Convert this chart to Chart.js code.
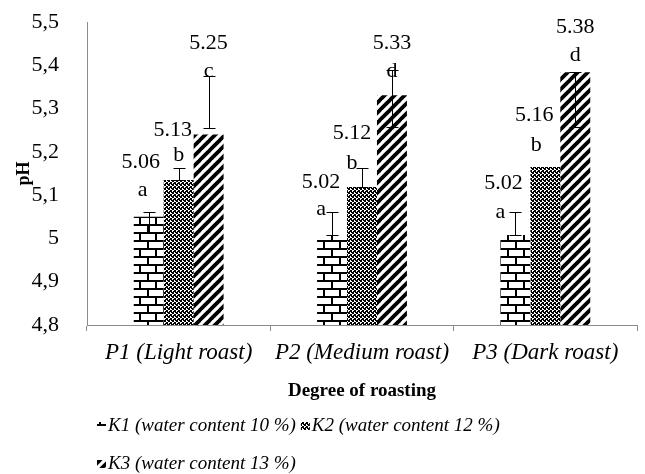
<!DOCTYPE html>
<html><head><meta charset="utf-8">
<script src="https://cdn.jsdelivr.net/npm/chart.js@4.4.0/dist/chart.umd.min.js"></script>
<style>html,body{margin:0;padding:0;background:#fff}#wrap{width:645px;height:474px;position:relative}</style>
</head><body><div id="wrap"><canvas id="c" width="645" height="474"></canvas></div>
<script>
// ---- data ----
const categories = ['P1 (Light roast)', 'P2 (Medium roast)', 'P3 (Dark roast)'];
const seriesNames = ['K1 (water content 10 %)', 'K2 (water content 12 %)', 'K3 (water content 13 %)'];
const k1Values = [5.05, 5.008, 5.008];
const k2Values = [5.135, 5.119, 5.165];
const k3Values = [5.24, 5.331, 5.384];
const k1ErrLow = [5.012, 5.008, 5.008];
const k1ErrHigh = [5.061, 5.061, 5.061];
const k2ErrLow = [5.135, 5.119, null];
const k2ErrHigh = [5.163, 5.163, null];
const k3ErrLow = [5.255, 5.257, 5.257];
const k3ErrHigh = [5.375, 5.389, 5.384];
const k1Labels = ['5.06', '5.02', '5.02'];
const k2Labels = ['5.13', '5.12', '5.16'];
const k3Labels = ['5.25', '5.33', '5.38'];
const k1Letters = ['a', 'a', 'a'];
const k2Letters = ['b', 'b', 'b'];
const k3Letters = ['c', 'd', 'd'];
const yMin = 4.8, yMax = 5.5, yStep = 0.1;

// ---- layout of annotations (pixel offsets from error-bar top) ----
const valueOffsets = [
  [[-8, -50], [-11, -30], [-12, -29]],
  [[-6, -38], [-10, -35], [-11, -52]],
  [[0, -33], [0, -27], [0, -45]]
];
const letterOffsets = [
  [[-6, -22], [-11, -3], [-15, 0]],
  [[0, -13], [-10, -5], [-9, -22]],
  [[0, -5], [0, 1], [0, -17]]
];

const SERIF = '"Liberation Serif", "Times New Roman", serif';

// ---- patterns ----
function tile(w, h, draw) {
  const c = document.createElement('canvas'); c.width = w; c.height = h;
  const x = c.getContext('2d'); draw(x, w, h); return c;
}
const brickTile = tile(16, 16, (x) => {
  x.fillStyle = '#fff'; x.fillRect(0, 0, 16, 16);
  x.fillStyle = '#000';
  x.fillRect(0, 0, 16, 2); x.fillRect(0, 8, 16, 2);
  x.fillRect(3, 2, 2, 6); x.fillRect(11, 10, 2, 6);
});
const checkTile = tile(4, 4, (x) => {
  x.fillStyle = '#fff'; x.fillRect(0, 0, 4, 4);
  x.fillStyle = '#000';
  x.fillRect(0, 0, 2, 2); x.fillRect(2, 2, 2, 2);
  x.fillRect(3, 0, 1, 1); x.fillRect(1, 3, 1, 1);
});
const stripeTile = tile(10, 10, (x) => {
  x.fillStyle = '#fff'; x.fillRect(0, 0, 10, 10);
  x.strokeStyle = '#000'; x.lineWidth = 3.8;
  for (let o = -10; o <= 10; o += 10) {
    x.beginPath(); x.moveTo(o - 1, 11); x.lineTo(o + 11, -1); x.stroke();
  }
});
const ctx = document.getElementById('c').getContext('2d');
const patterns = [
  ctx.createPattern(brickTile, 'repeat'),
  ctx.createPattern(checkTile, 'repeat'),
  ctx.createPattern(stripeTile, 'repeat')
];

const errLow = [k1ErrLow, k2ErrLow, k3ErrLow];
const errHigh = [k1ErrHigh, k2ErrHigh, k3ErrHigh];
const valLabels = [k1Labels, k2Labels, k3Labels];
const letters = [k1Letters, k2Letters, k3Letters];

const annotPlugin = {
  id: 'annot',
  afterDatasetsDraw(chart) {
    const c = chart.ctx, y = chart.scales.y;
    c.save();
    c.strokeStyle = '#000'; c.lineWidth = 1;
    for (let s = 0; s < 3; s++) {
      const meta = chart.getDatasetMeta(s);
      meta.data.forEach((bar, i) => {
        const bx = Math.round(bar.x) + 0.5;
        let top = bar.y;
        if (errHigh[s][i] != null) {
          const yl = Math.round(y.getPixelForValue(errLow[s][i])) + 0.5;
          const yh = Math.round(y.getPixelForValue(errHigh[s][i])) + 0.5;
          c.beginPath();
          c.moveTo(bx, yl); c.lineTo(bx, yh);
          c.moveTo(bx - 6, yh); c.lineTo(bx + 6, yh);
          c.moveTo(bx - 6, yl); c.lineTo(bx + 6, yl);
          c.stroke();
          top = yh;
        }
        c.fillStyle = '#000';
        c.textAlign = 'center'; c.textBaseline = 'middle';
        c.font = '22px ' + SERIF;
        const vo = valueOffsets[s][i], lo = letterOffsets[s][i];
        c.fillText(valLabels[s][i], bar.x + vo[0], top + vo[1]);
        c.fillText(letters[s][i], bar.x + lo[0], top + lo[1]);
      });
    }
    c.restore();
  },
  afterDraw(chart) {
    const c = chart.ctx;
    c.save();
    c.font = 'italic 19px ' + SERIF;
    c.textBaseline = 'middle'; c.textAlign = 'left';
    c.fillStyle = '#000';
    const rows = [[0, 1], [2]];
    const rowY = [426, 464];
    const startX = chart.chartArea.left + 10;
    rows.forEach((row, r) => {
      let x = startX;
      row.forEach((s) => {
        c.fillStyle = patterns[s];
        c.fillRect(x, rowY[r] - 4, 9, 8);
        c.fillStyle = '#000';
        c.fillText(seriesNames[s], x + 11, rowY[r]);
        x += 11 + c.measureText(seriesNames[s]).width + 5;
      });
    });
    c.restore();
  }
};

const datasets = [k1Values, k2Values, k3Values].map((vals, s) => ({
  label: seriesNames[s],
  data: vals,
  backgroundColor: patterns[s],
  borderWidth: 0,
  categoryPercentage: 0.49,
  barPercentage: 1.0
}));

new Chart(ctx, {
  type: 'bar',
  data: { labels: categories, datasets },
  options: {
    responsive: false,
    animation: false,
    devicePixelRatio: 1,
    layout: { padding: { top: 22, right: 8, bottom: 64, left: 0 } },
    plugins: { legend: { display: false }, tooltip: { enabled: false } },
    scales: {
      x: {
        afterFit(s) { s.height = 85; s.paddingLeft = 0; s.paddingRight = 0; },
        grid: { display: true, drawOnChartArea: false, drawTicks: true, tickLength: 6, color: '#8c8c8c', offset: true },
        border: { display: true, color: '#8c8c8c', width: 1 },
        ticks: { color: '#000', padding: 8, maxRotation: 0, autoSkip: false, font: { family: SERIF, size: 23, style: 'italic' } },
        title: { display: true, text: 'Degree of roasting', color: '#000', padding: { top: 0, bottom: 8 }, font: { family: SERIF, size: 19, weight: 'bold' } }
      },
      y: {
        min: yMin, max: yMax,
        afterFit(s) { s.width = 87; s.paddingTop = 0; s.paddingBottom = 0; },
        grid: { display: false },
        border: { display: true, color: '#8c8c8c', width: 1 },
        ticks: {
          stepSize: yStep, color: '#000', padding: 20,
          font: { family: SERIF, size: 22 },
          callback: (v) => String(Number(v.toFixed(1))).replace('.', ',')
        },
        title: { display: true, text: 'pH', color: '#000', padding: { top: 14, bottom: 0 }, font: { family: SERIF, size: 18, weight: 'bold' } }
      }
    }
  },
  plugins: [annotPlugin]
});
</script>
</body></html>
